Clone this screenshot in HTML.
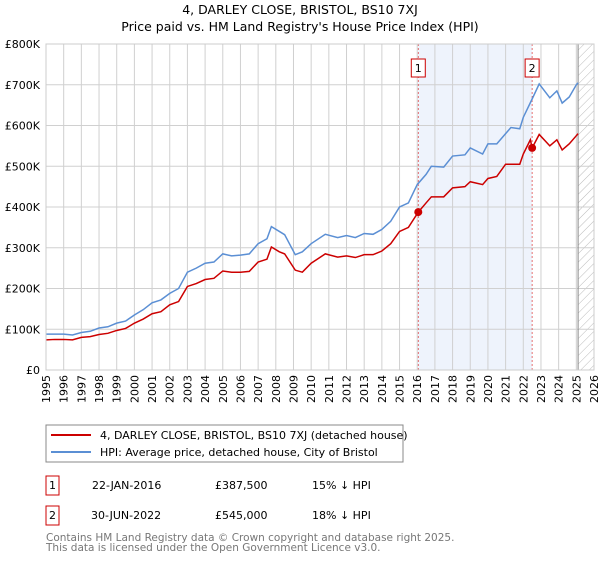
<!DOCTYPE html>
<html><head><meta charset="utf-8"><style>
body{margin:0;background:#fff;font-family:"DejaVu Sans","Liberation Sans",sans-serif;}
svg text{font-family:"DejaVu Sans","Liberation Sans",sans-serif;}
</style></head><body>
<svg id="chart" width="600" height="560" xmlns="http://www.w3.org/2000/svg">
<text x="300" y="14" text-anchor="middle" font-size="12.5">4, DARLEY CLOSE, BRISTOL, BS10 7XJ</text>
<text x="300" y="31" text-anchor="middle" font-size="12.5">Price paid vs. HM Land Registry's House Price Index (HPI)</text>
<g id="plot"></g>
<g>
<rect x="46" y="425" width="357" height="37" fill="#fff" stroke="#888"/>
<line x1="51" y1="435" x2="91" y2="435" stroke="#cc0000" stroke-width="2"/>
<text x="100" y="439" font-size="11">4, DARLEY CLOSE, BRISTOL, BS10 7XJ (detached house)</text>
<line x1="51" y1="452" x2="91" y2="452" stroke="#5b8fd4" stroke-width="2"/>
<text x="100" y="456" font-size="11">HPI: Average price, detached house, City of Bristol</text>
</g>
<g font-size="11">
<rect x="46" y="476" width="13" height="19" fill="#fff" stroke="#cc0000"/><text x="52.5" y="489" text-anchor="middle">1</text>
<text x="92" y="489">22-JAN-2016</text><text x="215" y="489">£387,500</text><text x="312" y="489">15% ↓ HPI</text>
<rect x="46" y="506" width="13" height="19" fill="#fff" stroke="#cc0000"/><text x="52.5" y="519" text-anchor="middle">2</text>
<text x="91" y="519">30-JUN-2022</text><text x="215" y="519">£545,000</text><text x="312" y="519">18% ↓ HPI</text>
</g>
<text x="46" y="541" font-size="10.5" fill="#777">Contains HM Land Registry data © Crown copyright and database right 2025.</text>
<text x="46" y="551" font-size="10.5" fill="#777">This data is licensed under the Open Government Licence v3.0.</text>
</svg>
<script>
const hpiYears=[1995,1995.5,1996,1996.5,1997,1997.5,1998,1998.5,1999,1999.5,2000,2000.5,2001,2001.5,2002,2002.5,2003,2003.5,2004,2004.5,2005,2005.5,2006,2006.5,2007,2007.5,2007.75,2008.2,2008.5,2009.1,2009.5,2010,2010.8,2011.5,2012,2012.5,2013,2013.5,2014,2014.5,2015,2015.5,2016,2016.5,2016.8,2017.5,2018,2018.7,2019,2019.7,2020,2020.5,2021,2021.3,2021.8,2022,2022.5,2022.9,2023.5,2023.9,2024.2,2024.6,2025,2025.1];
const hpiValues=[88,88,88,86,92,95,103,106,115,120,135,148,165,172,188,200,240,250,262,265,285,280,282,285,310,322,352,340,332,283,290,310,333,325,330,325,335,333,345,365,400,410,455,480,500,498,525,528,545,530,555,555,580,595,592,620,665,702,668,685,655,670,700,705];
const priceYears=[1995,1995.5,1996,1996.5,1997,1997.5,1998,1998.5,1999,1999.5,2000,2000.5,2001,2001.5,2002,2002.5,2003,2003.5,2004,2004.5,2005,2005.5,2006,2006.5,2007,2007.5,2007.75,2008.2,2008.5,2009.1,2009.5,2010,2010.8,2011.5,2012,2012.5,2013,2013.5,2014,2014.5,2015,2015.5,2016.06,2016.5,2016.8,2017.5,2018,2018.7,2019,2019.7,2020,2020.5,2021,2021.3,2021.8,2022,2022.4,2022.5,2022.9,2023.5,2023.9,2024.2,2024.6,2025,2025.1];
const priceValues=[74,75,75,74,80,82,87,90,97,102,115,125,138,143,160,168,205,212,222,225,243,240,240,242,265,272,302,290,285,245,240,262,285,277,280,276,283,283,292,310,340,350,387.5,410,425,425,447,450,462,455,470,475,505,505,505,530,565,545,578,550,565,540,555,575,580];
const saleYears=[2016.06,2022.5];
const saleValues=[387.5,545];
const saleLabels=["1","2"];
const yTicks=[0,100,200,300,400,500,600,700,800];
const yTickLabels=["£0","£100K","£200K","£300K","£400K","£500K","£600K","£700K","£800K"];
const xTicks=[1995,1996,1997,1998,1999,2000,2001,2002,2003,2004,2005,2006,2007,2008,2009,2010,2011,2012,2013,2014,2015,2016,2017,2018,2019,2020,2021,2022,2023,2024,2025,2026];

const L=46,R=594,T=44,B=370,x0=1995,x1=2026,ymax=800;
const X=v=>L+(v-x0)/(x1-x0)*(R-L);
const Y=v=>B-v/ymax*(B-T);
const NS="http://www.w3.org/2000/svg";
const g=document.getElementById('plot');
function mk(tag,attrs,parent){const e=document.createElementNS(NS,tag);for(const k in attrs)e.setAttribute(k,attrs[k]);(parent||g).appendChild(e);return e;}
let e;
e=mk('rect',{x:L,y:T,width:R-L,height:B-T,fill:'#fff'});


e=mk('rect',{x:X(saleYears[0]),y:T,width:X(saleYears[1])-X(saleYears[0]),height:B-T,fill:'#eef3fc'});


const defs=mk('defs',{});
const pat=mk('pattern',{id:'hatch',width:6,height:6,patternUnits:'userSpaceOnUse',patternTransform:'rotate(45)'},defs);
mk('line',{x1:0,y1:0,x2:0,y2:6,stroke:'#bbb','stroke-width':1},pat);
const hs=2025.1;
e=mk('rect',{x:X(hs),y:T,width:R-X(hs),height:B-T,fill:'url(#hatch)'});


xTicks.forEach(t=>{
 e=mk('line',{x1:X(t),y1:T,x2:X(t),y2:B,stroke:'#d0d0d0','stroke-width':1});
 
 
 e=mk('text',{x:0,y:0,'font-size':11,'text-anchor':'end',transform:`translate(${X(t)+4},${B+5}) rotate(-90)`});
 e.textContent=t;
 
 
});
yTicks.forEach((t,i)=>{
 e=mk('line',{x1:L,y1:Y(t),x2:R,y2:Y(t),stroke:'#d0d0d0','stroke-width':1});
 
 
 e=mk('text',{x:40,y:Y(t)+4,'font-size':11,'text-anchor':'end'});
 e.textContent=yTickLabels[i];
 
 
});
e=mk('line',{x1:X(hs),y1:T,x2:X(hs),y2:B,stroke:'#888','stroke-width':1});


saleYears.forEach((s,i)=>{
 e=mk('line',{x1:X(s),y1:T,x2:X(s),y2:B,stroke:'#e05050','stroke-width':0.8,'stroke-dasharray':'2,2'});
 
 
 e=mk('rect',{x:X(s)-7,y:59,width:14,height:18,fill:'#fff',stroke:'#cc0000'});
 
 
 e=mk('text',{x:X(s),y:72,'font-size':11,'text-anchor':'middle'});
 e.textContent=saleLabels[i];
 
 
});
e=mk('polyline',{points:hpiYears.map((y,i)=>X(y)+','+Y(hpiValues[i])).join(' '),fill:'none',stroke:'#5b8fd4','stroke-width':1.5});


e=mk('polyline',{points:priceYears.map((y,i)=>X(y)+','+Y(priceValues[i])).join(' '),fill:'none',stroke:'#cc0000','stroke-width':1.5});


saleYears.forEach((s,i)=>{
 e=mk('circle',{cx:X(s),cy:Y(saleValues[i]),r:4,fill:'#cc0000'});
 
 
});
e=mk('rect',{x:L,y:T,width:R-L,height:B-T,fill:'none',stroke:'#ccc'});


</script>
</body></html>
